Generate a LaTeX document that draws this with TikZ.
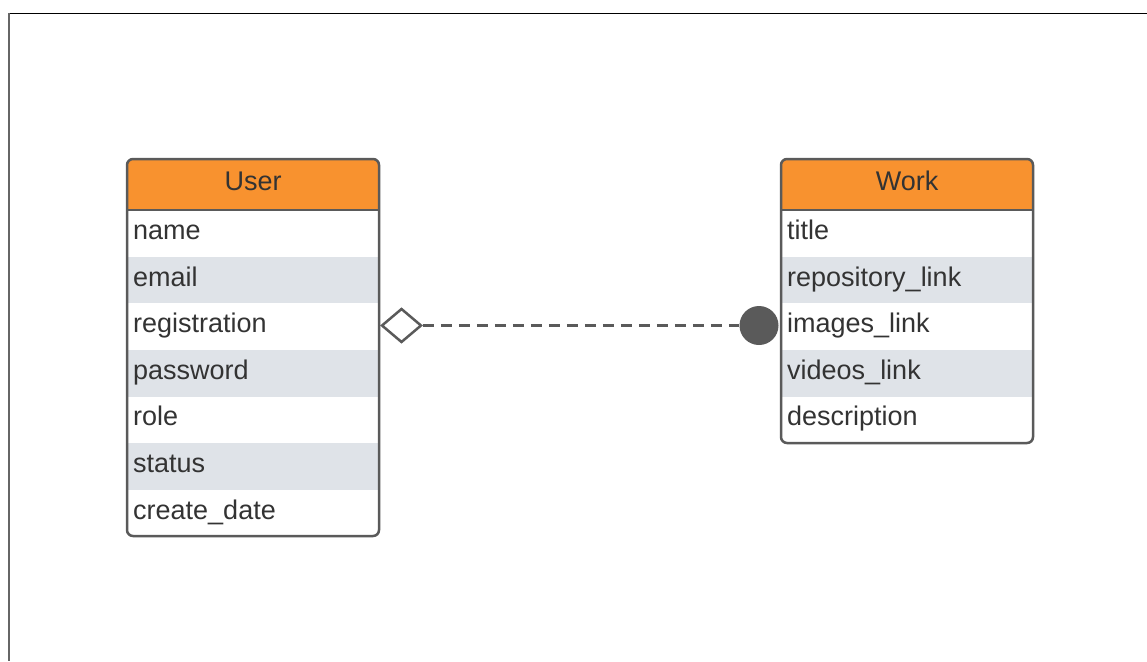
\documentclass[tikz,border=0pt]{standalone}
\usepackage{fontspec}
\setmainfont{Liberation Sans}
\usetikzlibrary{shapes.geometric}
\definecolor{hdr}{HTML}{F8922F}
\definecolor{rowgray}{HTML}{DFE3E8}
\definecolor{edgec}{HTML}{5A5A5A}
\definecolor{txt}{HTML}{333333}
\begin{document}
\begin{tikzpicture}[x=1pt,y=-1pt,
  hdrbox/.style={rectangle, fill=hdr, minimum width=252pt, minimum height=51pt, inner sep=0pt, anchor=north west, text=txt, font=\fontsize{27}{30}\selectfont, text height=21pt, text depth=9pt},
  rowbox/.style={rectangle, minimum height=46.6pt, text width=240pt, inner xsep=6pt, inner ysep=0pt, align=left, anchor=north west, text=txt, font=\fontsize{27}{30}\selectfont, text height=21pt, text depth=9pt},
  whiterow/.style={rowbox, fill=white},
  grayrow/.style={rowbox, fill=rowgray},
  tableframe/.style={draw=edgec, line width=2.5pt, rounded corners=6pt},
  sepline/.style={draw=edgec, line width=2pt},
  conn/.style={draw=edgec, line width=3pt, dash pattern=on 11pt off 7pt}
]
\useasboundingbox (0,0) rectangle (1147,661);
\fill[white] (0,0) rectangle (1147,661);
\draw[black, line width=1.5pt] (8.5,13.5) -- (1147,13.5);
\draw[black!60, line width=2pt] (8.5,13) -- (8.5,661);

% User table
\begin{scope}
\clip[rounded corners=6pt] (127,159) rectangle (379,536);
\node[hdrbox] (user) at (127,159) {User};
\node[whiterow] (u1) at (127,210) {name};
\node[grayrow] (u2) at (127,256.6) {email};
\node[whiterow] (u3) at (127,303.2) {registration};
\node[grayrow] (u4) at (127,349.8) {password};
\node[whiterow] (u5) at (127,396.4) {role};
\node[grayrow] (u6) at (127,443) {status};
\node[whiterow] (u7) at (127,489.6) {create\_date};
\end{scope}
\draw[tableframe] (127,159) rectangle (379,536);
\draw[sepline] (127,210) -- (379,210);

% Work table
\begin{scope}
\clip[rounded corners=6pt] (781,159) rectangle (1033,443);
\node[hdrbox] (work) at (781,159) {Work};
\node[whiterow] (w1) at (781,210) {title};
\node[grayrow] (w2) at (781,256.6) {repository\_link};
\node[whiterow] (w3) at (781,303.2) {images\_link};
\node[grayrow] (w4) at (781,349.8) {videos\_link};
\node[whiterow] (w5) at (781,396.4) {description};
\end{scope}
\draw[tableframe] (781,159) rectangle (1033,443);
\draw[sepline] (781,210) -- (1033,210);

% connector
\node[diamond, draw=edgec, fill=white, line width=2.5pt, minimum width=40pt, minimum height=34pt, inner sep=0pt] (dia) at (401.5,325.5) {};
\node[circle, fill=edgec, minimum size=39pt, inner sep=0pt] (dot) at (759,325.5) {};
\draw[conn] (dia.east) -- (dot.west);
\end{tikzpicture}
\end{document}
